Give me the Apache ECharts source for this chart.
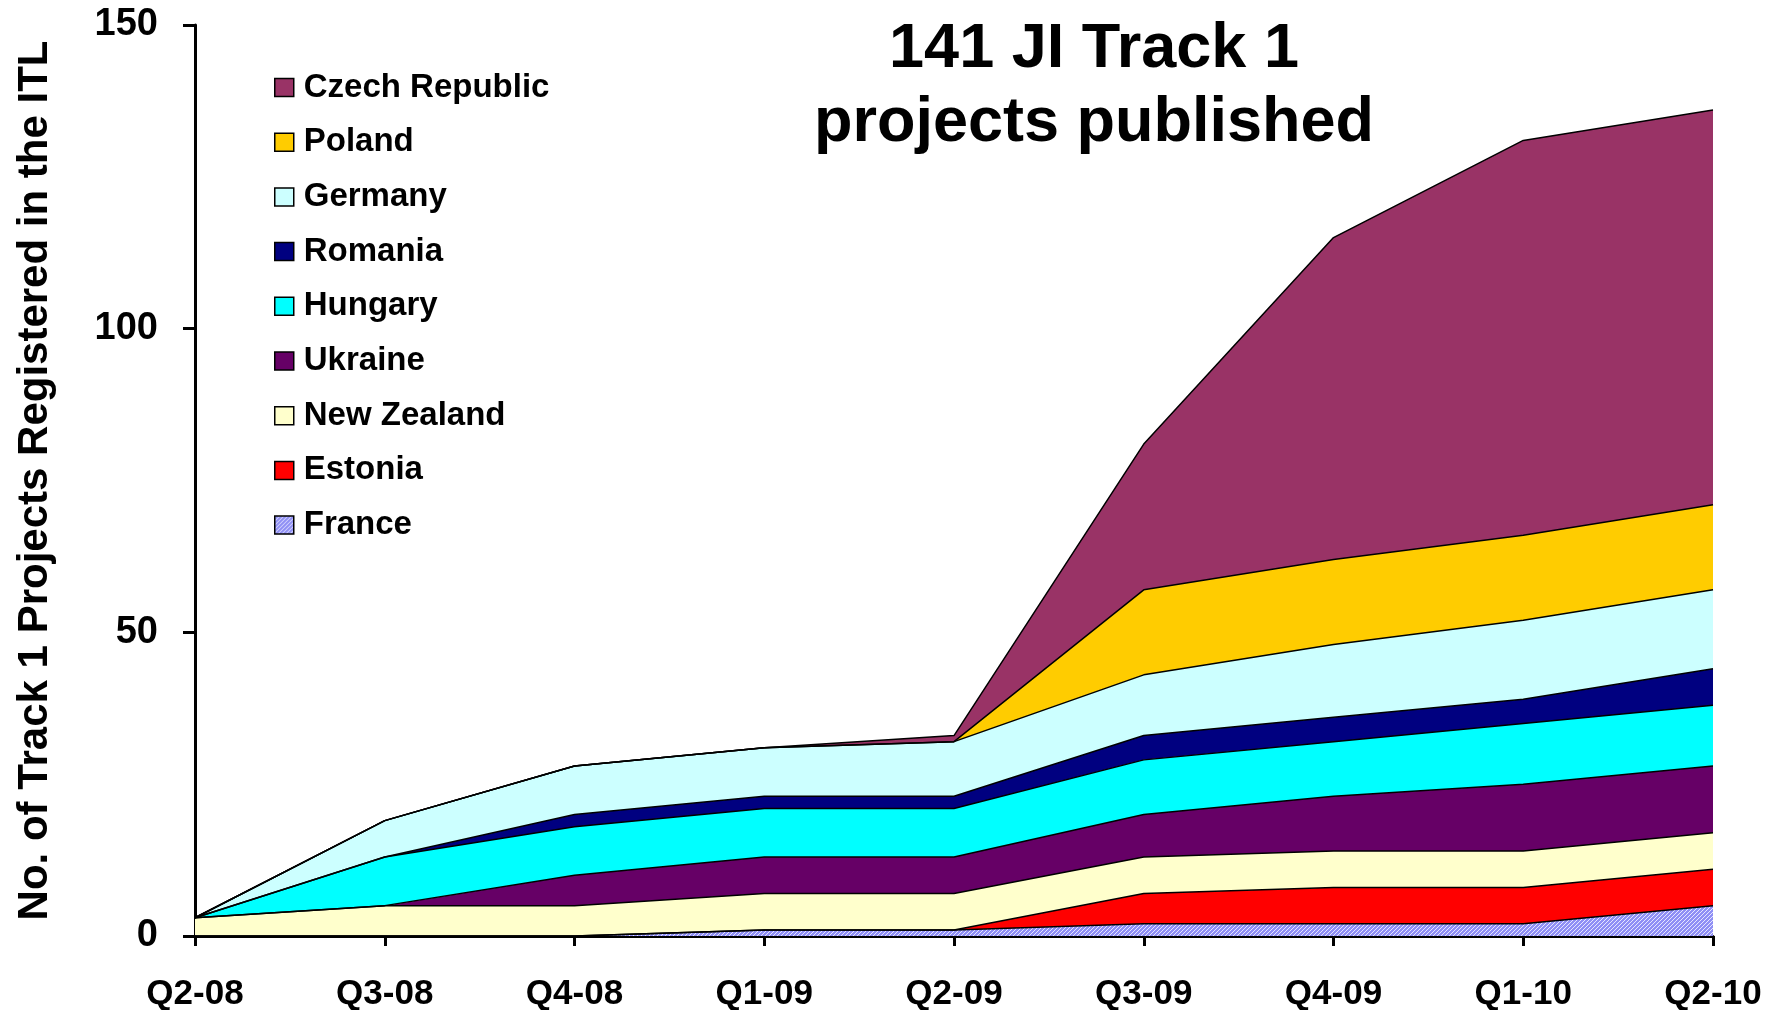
<!DOCTYPE html>
<html>
<head>
<meta charset="utf-8">
<script src="https://cdn.jsdelivr.net/npm/echarts@6/dist/echarts.min.js"></script>
<style>
html,body{margin:0;padding:0;background:#fff;}
#chart{width:1779px;height:1010px;}
</style>
</head>
<body>
<div id="chart"></div>
<script>
const categories = ['Q2-08','Q3-08','Q4-08','Q1-09','Q2-09','Q3-09','Q4-09','Q1-10','Q2-10'];
const yTicks = [0, 50, 100, 150];
const france      = [0, 0, 0, 1, 1, 2, 2, 2, 5];
const estonia     = [0, 0, 0, 0, 0, 5, 6, 6, 6];
const newZealand  = [3, 5, 5, 6, 6, 6, 6, 6, 6];
const ukraine     = [0, 0, 5, 6, 6, 7, 9, 11, 11];
const hungary     = [0, 8, 8, 8, 8, 9, 9, 10, 10];
const romania     = [0, 0, 2, 2, 2, 4, 4, 4, 6];
const germany     = [0, 6, 8, 8, 9, 10, 12, 13, 13];
const poland      = [0, 0, 0, 0, 0, 14, 14, 14, 14];
const czech       = [0, 0, 0, 0, 1, 24, 53, 65, 65];
const titleText = '141 JI Track 1\nprojects published';
const yAxisName = 'No. of Track 1 Projects Registered in the ITL';

// hatch pattern for France
const pc = document.createElement('canvas');
pc.width = 4; pc.height = 4;
const pctx = pc.getContext('2d');
pctx.fillStyle = '#8f8ff5';
pctx.fillRect(0, 0, 4, 4);
pctx.fillStyle = '#e6e6ff';
pctx.fillRect(0, 0, 1, 1);
pctx.fillRect(2, 2, 1, 1);
pctx.fillRect(1, 3, 1, 1);
pctx.fillRect(3, 1, 1, 1);
const francePattern = { image: pc, repeat: 'repeat' };

const seriesDefs = [
  { name: 'France', data: france, color: '#9999ff', fill: francePattern },
  { name: 'Estonia', data: estonia, color: '#ff0000' },
  { name: 'New Zealand', data: newZealand, color: '#ffffcc' },
  { name: 'Ukraine', data: ukraine, color: '#660066' },
  { name: 'Hungary', data: hungary, color: '#00ffff' },
  { name: 'Romania', data: romania, color: '#000080' },
  { name: 'Germany', data: germany, color: '#ccffff' },
  { name: 'Poland', data: poland, color: '#ffcc00' },
  { name: 'Czech Republic', data: czech, color: '#993366' }
];

const FONT = "'Liberation Sans', Arial, sans-serif";

const chart = echarts.init(document.getElementById('chart'));
chart.setOption({
  animation: false,
  backgroundColor: '#ffffff',
  title: {
    text: titleText,
    left: 1089,
    textAlign: 'center',
    top: 8,
    textStyle: { fontFamily: FONT, fontWeight: 'bold', fontSize: 63, lineHeight: 74, color: '#000' }
  },
  legend: {
    orient: 'vertical',
    left: 269,
    top: 66,
    icon: 'rect',
    itemWidth: 19,
    itemHeight: 18,
    itemGap: 21.7,
    itemStyle: { borderColor: '#000', borderWidth: 1.5 },
    textStyle: { fontFamily: FONT, fontWeight: 'bold', fontSize: 33, lineHeight: 32, color: '#000', padding: [0, 0, 0, 5] },
    data: seriesDefs.slice().reverse().map(s => ({ name: s.name, itemStyle: { color: s.fill || s.color } }))
  },
  grid: { left: 195, right: 66, top: 25, bottom: 74, containLabel: false, outerBoundsMode: 'none' },
  xAxis: {
    type: 'category',
    data: categories,
    boundaryGap: false,
    axisLine: { lineStyle: { color: '#000', width: 3 } },
    axisTick: { show: true, length: 10, lineStyle: { color: '#000', width: 3 } },
    axisLabel: { fontFamily: FONT, fontWeight: 'bold', fontSize: 35, color: '#000', margin: 41 },
    splitLine: { show: false }
  },
  yAxis: {
    type: 'value',
    min: yTicks[0],
    max: yTicks[yTicks.length - 1],
    interval: 50,
    name: yAxisName,
    nameLocation: 'middle',
    nameGap: 139,
    nameTextStyle: { fontFamily: FONT, fontWeight: 'bold', fontSize: 42, color: '#000' },
    axisLine: { show: true, lineStyle: { color: '#000', width: 3 } },
    axisTick: { show: true, length: 12, lineStyle: { color: '#000', width: 3 } },
    axisLabel: { fontFamily: FONT, fontWeight: 'bold', fontSize: 38, color: '#000', margin: 37 },
    splitLine: { show: false }
  },
  series: seriesDefs.map(s => ({
    name: s.name,
    type: 'line',
    stack: 'total',
    data: s.data,
    showSymbol: false,
    symbol: 'none',
    itemStyle: { color: s.fill || s.color },
    lineStyle: { color: '#000', width: 1.5 },
    areaStyle: { color: s.fill || s.color, opacity: 1 },
    emphasis: { disabled: true }
  }))
});
</script>
</body>
</html>
